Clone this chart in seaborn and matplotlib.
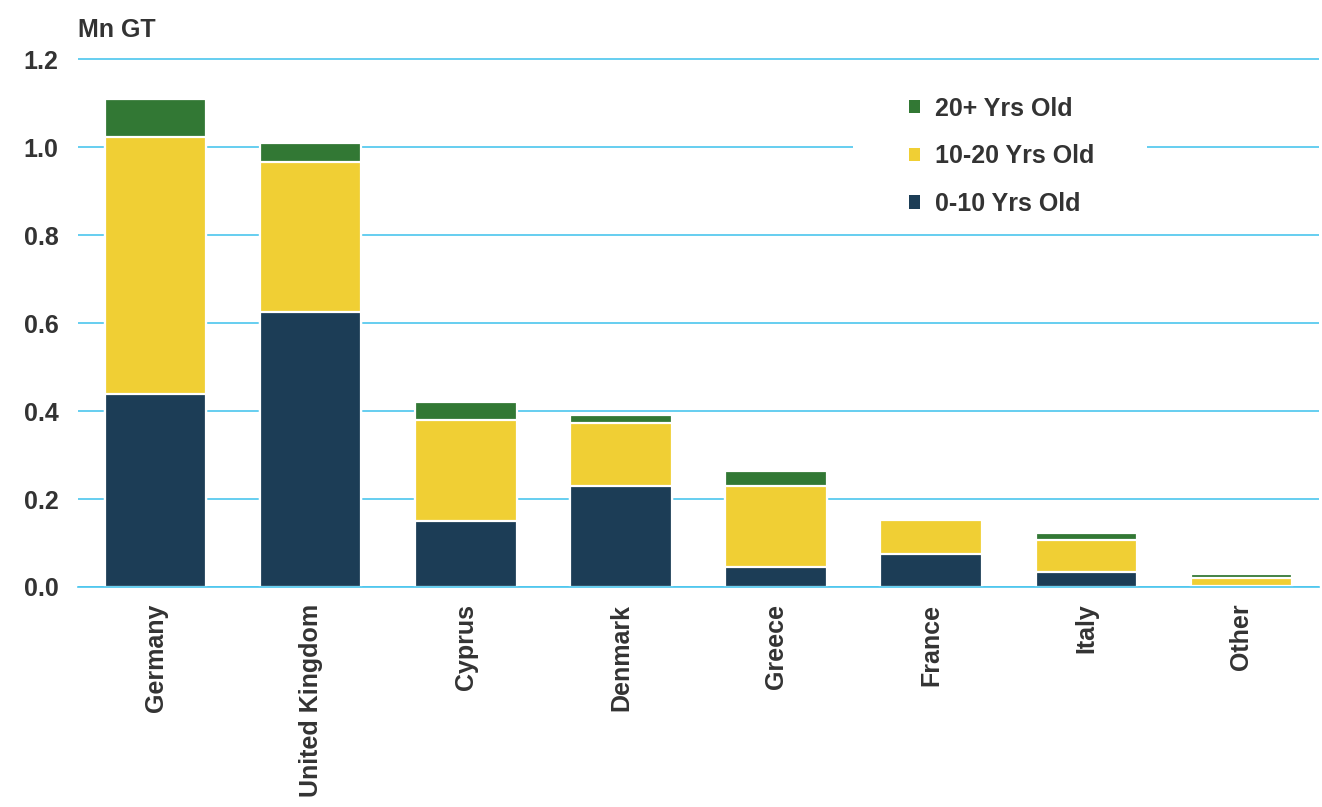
import matplotlib
matplotlib.use("Agg")
import matplotlib.pyplot as plt
import seaborn as sns
import pandas as pd
import numpy as np
from matplotlib.patches import Patch, Rectangle

countries = ["Germany", "United Kingdom", "Cyprus", "Denmark", "Greece", "France", "Italy", "Other"]
age_0_10 = [0.438, 0.626, 0.150, 0.230, 0.046, 0.075, 0.034, 0.002]
age_10_20 = [0.584, 0.340, 0.230, 0.142, 0.184, 0.078, 0.073, 0.018]
age_20_plus = [0.088, 0.043, 0.040, 0.018, 0.033, 0.000, 0.016, 0.009]
series_names = ["0-10 Yrs Old", "10-20 Yrs Old", "20+ Yrs Old"]
yticks = [0.0, 0.2, 0.4, 0.6, 0.8, 1.0, 1.2]

colors = {"0-10 Yrs Old": "#1C3D56", "10-20 Yrs Old": "#F0CF34", "20+ Yrs Old": "#327834"}
grid_color = "#4CC6EE"
text_color = "#333333"
fs = 18

sns.set_theme(style="white")
plt.rcParams["font.family"] = ["Liberation Sans", "DejaVu Sans"]
plt.rcParams["font.weight"] = "bold"

df = pd.DataFrame({
    "country": countries,
    "a": age_0_10,
    "b": age_10_20,
    "c": age_20_plus,
})
df["lvl1"] = df["a"]
df["lvl2"] = df["a"] + df["b"]
df["lvl3"] = df["a"] + df["b"] + df["c"]

fig = plt.figure(figsize=(13.22, 8.07), dpi=100)
ax = fig.add_axes([78 / 1322, 1 - 587 / 807, (1319 - 78) / 1322, (587 - 58) / 807])

ax.set_axisbelow(True)
ax.yaxis.grid(True, color=grid_color, linewidth=1.2)
ax.xaxis.grid(False)

for col, name in [("lvl3", "20+ Yrs Old"), ("lvl2", "10-20 Yrs Old"), ("lvl1", "0-10 Yrs Old")]:
    sns.barplot(data=df, x="country", y=col, color=colors[name], saturation=1,
                width=0.655, edgecolor="white", linewidth=1.6, ax=ax, order=countries)

ax.set_ylim(0, 1.2024)
ax.set_xlim(-0.5, 7.5)
ax.set_yticks(yticks)
ax.set_yticklabels([f"{v:.1f}" for v in yticks], fontsize=fs, fontweight="bold", color=text_color)
ax.set_xticks(range(len(countries)))
ax.set_xticklabels(countries, rotation=90, fontsize=fs, fontweight="bold", color=text_color)
ax.tick_params(axis="y", length=0, pad=14)
ax.tick_params(axis="x", length=0, pad=12)
ax.set_xlabel("")
ax.set_ylabel("")
for s in ["top", "right", "left"]:
    ax.spines[s].set_visible(False)
ax.spines["bottom"].set_color(grid_color)
ax.spines["bottom"].set_linewidth(1.2)

fig.text(78 / 1322, 1 - 30 / 807, "Mn GT", fontsize=fs, fontweight="bold", color=text_color,
         ha="left", va="center")

# white legend background box (interrupts the gridline like the reference)
ax.add_patch(Rectangle((853 / 1322, 1 - 225 / 807), (1147 - 853) / 1322, (225 - 84) / 807,
                       transform=fig.transFigure, facecolor="white", edgecolor="none",
                       zorder=0.8, clip_on=False))

handles = [Patch(facecolor=colors[n], edgecolor="none") for n in reversed(series_names)]
leg = ax.legend(handles, list(reversed(series_names)), loc="upper left",
                bbox_to_anchor=(896 / 1322, 1 - 84 / 807), bbox_transform=fig.transFigure,
                frameon=False,
                handlelength=0.45, handleheight=0.45, handletextpad=0.6, labelspacing=0.95,
                borderpad=0.5, borderaxespad=0,
                prop={"size": fs, "weight": "bold"})
for t in leg.get_texts():
    t.set_color(text_color)

fig.savefig("out.png", dpi=100)
